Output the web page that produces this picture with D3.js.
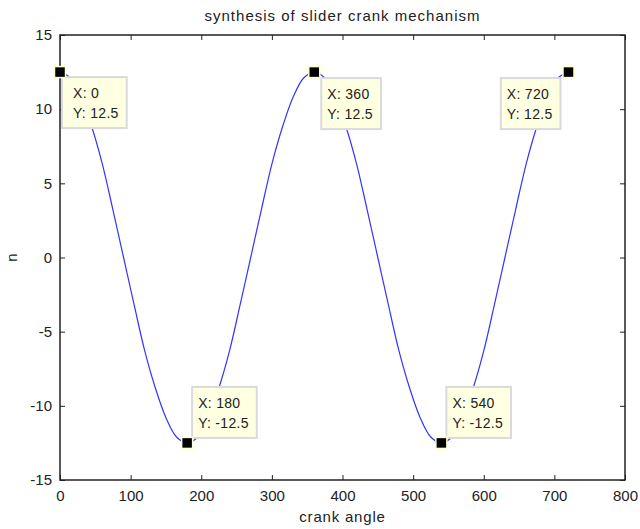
<!DOCTYPE html>
<meta charset="utf-8">
<style>
body { margin: 0; background: #fff; }
svg text { font-family: "Liberation Sans", Arial, sans-serif; fill: #222; }
.curve { fill: none; stroke: #3434ff; stroke-width: 1.2; }
.tip rect.box { fill: #ffffe1; stroke: #dadada; stroke-width: 2; }
</style>
<svg width="640" height="529"></svg>
<script src="https://d3js.org/d3.v7.min.js"></script>
<script>

// crank angle (deg) and n
var angles = [0, 15, 30, 45, 60, 75, 90, 105, 120, 135, 150, 165, 180,
              195, 210, 225, 240, 255, 270, 285, 300, 315, 330, 345, 360,
              375, 390, 405, 420, 435, 450, 465, 480, 495, 510, 525, 540,
              555, 570, 585, 600, 615, 630, 645, 660, 675, 690, 705, 720];
var nValues = [12.5, 12.1, 10.8, 8.8, 6.3, 3.2, 0, -3.2, -6.3, -8.8, -10.8, -12.1, -12.5,
               -12.1, -10.8, -8.8, -6.3, -3.2, 0, 3.2, 6.3, 8.8, 10.8, 12.1, 12.5,
               12.1, 10.8, 8.8, 6.3, 3.2, 0, -3.2, -6.3, -8.8, -10.8, -12.1, -12.5,
               -12.1, -10.8, -8.8, -6.3, -3.2, 0, 3.2, 6.3, 8.8, 10.8, 12.1, 12.5];

// data tips
var tipX = [0, 180, 360, 540, 720];
var tipY = [12.5, -12.5, 12.5, -12.5, 12.5];

var xTicks = [0, 100, 200, 300, 400, 500, 600, 700, 800];
var yTicks = [-15, -10, -5, 0, 5, 10, 15];

var svg = d3.select("svg"),
    margin = {top: 35, right: 15, bottom: 49, left: 60},
    width = +svg.attr("width") - margin.left - margin.right,
    height = +svg.attr("height") - margin.top - margin.bottom;

var x = d3.scaleLinear().domain([0, 800]).range([0, width]),
    y = d3.scaleLinear().domain([-15, 15]).range([height, 0]);

// plain hyphen for negatives, like MATLAB
var fmt = function(v) { return String(v); };

var g = svg.append("g")
    .attr("transform", "translate(" + margin.left + "," + margin.top + ")");

/* axes: MATLAB style box with inward ticks on all sides */
function styleAxis(sel) {
  sel.select(".domain").remove();
  sel.selectAll(".tick line").attr("stroke", "#222");
  sel.selectAll("text").style("font-size", "15px");
}

g.append("g")
    .attr("transform", "translate(0," + height + ")")
    .call(d3.axisBottom(x).tickValues(xTicks).tickSize(-5).tickPadding(10).tickFormat(fmt))
    .call(styleAxis);
g.append("g")
    .call(d3.axisTop(x).tickValues(xTicks).tickSize(-5).tickFormat(""))
    .call(styleAxis);
g.append("g")
    .call(d3.axisLeft(y).tickValues(yTicks).tickSize(-5).tickPadding(8).tickFormat(fmt))
    .call(styleAxis);
g.append("g")
    .attr("transform", "translate(" + width + ",0)")
    .call(d3.axisRight(y).tickValues(yTicks).tickSize(-5).tickFormat(""))
    .call(styleAxis);

g.append("rect")
    .attr("width", width)
    .attr("height", height)
    .attr("fill", "none")
    .attr("stroke", "#222")
    .attr("stroke-width", 1.5);

/* curve */
var line = d3.line()
    .x(function(d, i) { return x(angles[i]); })
    .y(function(d) { return y(d); })
    .curve(d3.curveCatmullRom);

g.append("path")
    .datum(nValues)
    .attr("class", "curve")
    .attr("d", line);

/* titles */
svg.append("text")
    .attr("x", margin.left + width / 2)
    .attr("y", 21)
    .attr("text-anchor", "middle")
    .style("font-size", "15px")
    .style("letter-spacing", "1px")
    .text("synthesis of slider crank mechanism");

svg.append("text")
    .attr("x", margin.left + width / 2)
    .attr("y", 522)
    .attr("text-anchor", "middle")
    .style("font-size", "15px")
    .style("letter-spacing", "0.8px")
    .text("crank angle");

svg.append("text")
    .attr("transform", "translate(17," + (margin.top + height / 2) + ") rotate(-90)")
    .attr("text-anchor", "middle")
    .style("font-size", "15px")
    .text("n");

/* data tips: box placement relative to the marker */
var tipPlace = [
  {dx: 2, dy: 5, side: "right", vert: "below", padL: 11},
  {dx: 5, dy: -5, side: "right", vert: "above", padL: 6},
  {dx: 7, dy: 6, side: "right", vert: "below", padL: 6},
  {dx: 5, dy: -5, side: "right", vert: "above", padL: 6},
  {dx: -8, dy: 6, side: "left", vert: "below", padL: 6}
];

var boxH = 51;

tipX.forEach(function(tx, i) {
  var px = x(tx), py = y(tipY[i]), p = tipPlace[i];
  var tip = g.append("g").attr("class", "tip");
  var box = tip.append("rect").attr("class", "box");
  var t = tip.append("g").style("font-size", "14px").style("letter-spacing", "0.3px");
  var l1 = t.append("text").text("X: " + fmt(tx));
  var l2 = t.append("text").text("Y: " + fmt(tipY[i]));
  var tw = Math.max(l1.node().getComputedTextLength(), l2.node().getComputedTextLength());
  var boxW = tw + p.padL + 8;
  var left = p.side === "right" ? px + p.dx : px + p.dx - boxW;
  var top = p.vert === "below" ? py + p.dy : py + p.dy - boxH;
  box.attr("x", left).attr("y", top).attr("width", boxW).attr("height", boxH);
  l1.attr("x", left + p.padL).attr("y", top + 21);
  l2.attr("x", left + p.padL).attr("y", top + 41);

  g.append("rect")
      .attr("x", px - 5.5)
      .attr("y", py - 5.5)
      .attr("width", 11)
      .attr("height", 11)
      .attr("fill", "#000")
      .attr("stroke", "#ffffc8")
      .attr("stroke-width", 1.5);
});

</script>
